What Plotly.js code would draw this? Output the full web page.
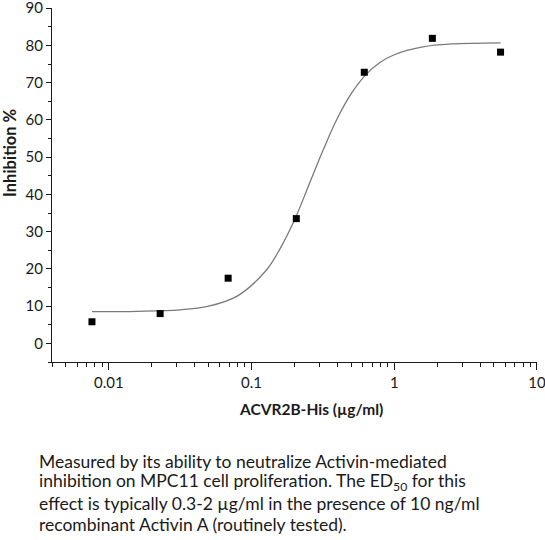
<!DOCTYPE html>
<html>
<head>
<meta charset="utf-8">
<script src="https://cdn.plot.ly/plotly-3.0.1.min.js"></script>
<style>
html,body{margin:0;padding:0;background:#fff;}
#chart{width:545px;height:540px;}
</style>
</head>
<body>
<div id="chart"></div>
<script>
// Measured points
const concentration = [0.00762, 0.0229, 0.0686, 0.206, 0.617, 1.85, 5.56];
const inhibition = [5.8, 8.0, 17.5, 33.5, 72.8, 81.9, 78.2];

// Fitted curve
const curveX = [0.00762, 0.0158, 0.0316, 0.0501, 0.0794, 0.126, 0.158, 0.2, 0.251, 0.316, 0.398, 0.501, 0.631, 0.794, 1.0, 1.585, 2.512, 5.56];
const curveY = [8.5, 8.6, 9.0, 10.0, 12.7, 19.5, 25.3, 33.1, 42.3, 51.7, 60.3, 67.1, 72.1, 75.4, 77.5, 79.6, 80.4, 80.7];

const xTickVals = [0.01, 0.1, 1, 10];
const xTickText = ['0.01', '0.1', '1', '10'];
const xMinorVals = [0.004, 0.005, 0.006, 0.007, 0.008, 0.009,
  0.02, 0.03, 0.04, 0.05, 0.06, 0.07, 0.08, 0.09,
  0.2, 0.3, 0.4, 0.5, 0.6, 0.7, 0.8, 0.9,
  2, 3, 4, 5, 6, 7, 8, 9];
const yTickVals = [0, 10, 20, 30, 40, 50, 60, 70, 80, 90];
const yMinorVals = [-5, 5, 15, 25, 35, 45, 55, 65, 75, 85];

const xTitle = '<b>ACVR2B-His (µg/ml)</b>';
const yTitle = '<b>Inhibition %</b>';
const captionLines = [
  'Measured by its ability to neutralize Activin-mediated',
  'inhibition on MPC11 cell proliferation. The ED<sub>50</sub> for this',
  'effect is typically 0.3-2 µg/ml in the presence of 10 ng/ml',
  'recombinant Activin A (routinely tested).'
];

const font = 'Lato, "Open Sans", sans-serif';
const ink = '#1a1a1a';

const data = [
  {
    x: curveX, y: curveY, type: 'scatter', mode: 'lines',
    line: {color: '#7a7a7a', width: 1.3, shape: 'spline', smoothing: 1},
    hoverinfo: 'skip', showlegend: false
  },
  {
    x: concentration, y: inhibition, type: 'scatter', mode: 'markers',
    marker: {symbol: 'square', size: 7, color: '#000'},
    showlegend: false
  }
];

// plot area: left 52, right 537, top 8, bottom 362 (354 px tall, 485 px wide)
const W = 485, H = 354;
function px(xPix) { return (xPix - 52) / W; }
function py(yPix) { return (362 - yPix) / H; }

const annotations = [
  {
    xref: 'paper', yref: 'paper', x: px(311), y: py(409),
    xanchor: 'center', yanchor: 'middle', showarrow: false,
    text: xTitle, font: {family: font, size: 15.5, color: ink}
  },
  {
    xref: 'paper', yref: 'paper', x: px(10), y: py(153),
    xanchor: 'center', yanchor: 'middle', showarrow: false, textangle: -90,
    text: yTitle, font: {family: font, size: 16.5, color: ink}
  }
];
const lineCenters = [461, 482, 503, 524];
captionLines.forEach(function (t, i) {
  annotations.push({
    xref: 'paper', yref: 'paper', x: px(37), y: py(lineCenters[i]),
    xanchor: 'left', yanchor: 'middle', align: 'left', showarrow: false,
    text: t, font: {family: font, size: 17.5, color: ink}
  });
});

const layout = {
  width: 545, height: 540,
  margin: {l: 52, r: 8, t: 8, b: 178},
  paper_bgcolor: '#fff', plot_bgcolor: '#fff',
  font: {family: font, color: ink, size: 15},
  xaxis: {
    type: 'log',
    range: [Math.log10(0.004), 1.0004],
    tickmode: 'array', tickvals: xTickVals, ticktext: xTickText,
    ticks: 'outside', ticklen: 7, tickwidth: 1, tickcolor: ink,
    ticklabeloverflow: 'allow',
    showline: true, linecolor: ink, linewidth: 1,
    showgrid: false, zeroline: false,
    tickfont: {size: 15, family: font, color: ink},
    minor: {tickmode: 'array', tickvals: xMinorVals, ticks: 'outside', ticklen: 4, tickwidth: 1, tickcolor: ink, showgrid: false}
  },
  yaxis: {
    range: [-5, 90.05],
    tickmode: 'array', tickvals: yTickVals,
    ticks: 'outside', ticklen: 5, tickwidth: 1, tickcolor: ink,
    ticklabeloverflow: 'allow',
    showline: true, linecolor: ink, linewidth: 1,
    showgrid: false, zeroline: false,
    tickfont: {size: 15, family: font, color: ink},
    minor: {tickmode: 'array', tickvals: yMinorVals, ticks: 'outside', ticklen: 3, tickwidth: 1, tickcolor: ink, showgrid: false}
  },
  annotations: annotations
};

Plotly.newPlot('chart', data, layout, {displayModeBar: false, staticPlot: true});
</script>
</body>
</html>
